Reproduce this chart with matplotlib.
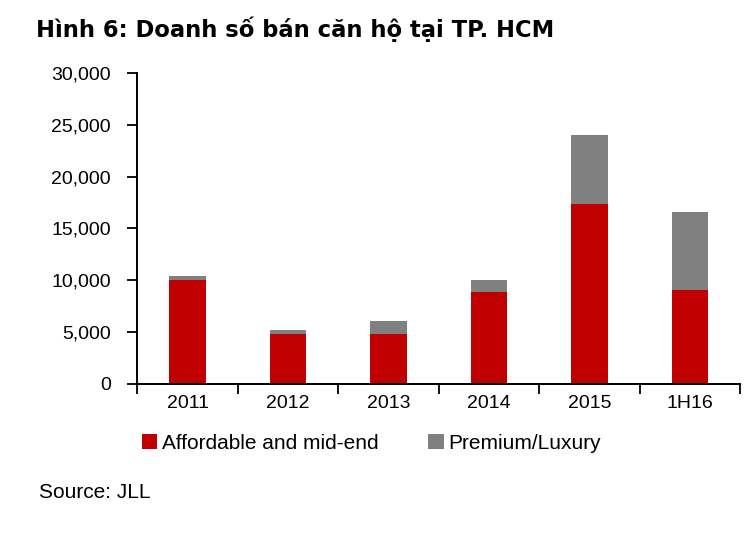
import numpy as np
import matplotlib
matplotlib.use("Agg")
import matplotlib.pyplot as plt
from matplotlib.ticker import FuncFormatter, FixedLocator

plt.rcParams["font.family"] = ["Liberation Sans", "DejaVu Sans"]

# Data
categories = ["2011", "2012", "2013", "2014", "2015", "1H16"]
affordable = [10000, 4800, 4800, 8900, 17350, 9050]
premium = [400, 450, 1300, 1150, 6650, 7500]
series_names = ["Affordable and mid-end", "Premium/Luxury"]
y_ticks = [0, 5000, 10000, 15000, 20000, 25000, 30000]

fig = plt.figure(figsize=(7.5, 5.37), dpi=100)
ax = fig.add_axes([0.183, 0.285, 0.804, 0.579])

x = np.arange(len(categories))
ax.bar(x, affordable, width=0.36, color="#C00000", label=series_names[0])
ax.bar(x, premium, width=0.36, bottom=affordable, color="#808080", label=series_names[1])

ax.set_xlim(-0.5, len(categories) - 0.5)
ax.set_ylim(0, 30000)
ax.set_yticks(y_ticks)
ax.yaxis.set_major_formatter(FuncFormatter(lambda v, p: f"{int(v):,}"))
ax.set_xticks(x)
ax.set_xticklabels(categories)
ax.xaxis.set_minor_locator(FixedLocator(np.arange(-0.5, len(categories), 1.0)))
ax.tick_params(axis="x", which="major", length=0, labelsize=14, pad=8)
ax.tick_params(axis="x", which="minor", length=7, width=1.3, direction="out")
ax.tick_params(axis="y", length=7, width=1.3, labelsize=14, pad=12)

for side in ["top", "right"]:
    ax.spines[side].set_visible(False)
for side in ["left", "bottom"]:
    ax.spines[side].set_linewidth(1.4)

fig.text(0.048, 0.945, "Hình 6: Doanh số bán căn hộ tại TP. HCM",
         fontsize=16.3, fontweight="bold", family=["DejaVu Sans"],
         va="center", ha="left")

fig.legend(loc="center", bbox_to_anchor=(0.495, 0.175), ncol=2, frameon=False,
           fontsize=15, handlelength=0.75, handleheight=0.75, handletextpad=0.2,
           columnspacing=2.4)

fig.text(0.052, 0.083, "Source: JLL", fontsize=15, va="center", ha="left")

fig.savefig("out.png", dpi=100)
